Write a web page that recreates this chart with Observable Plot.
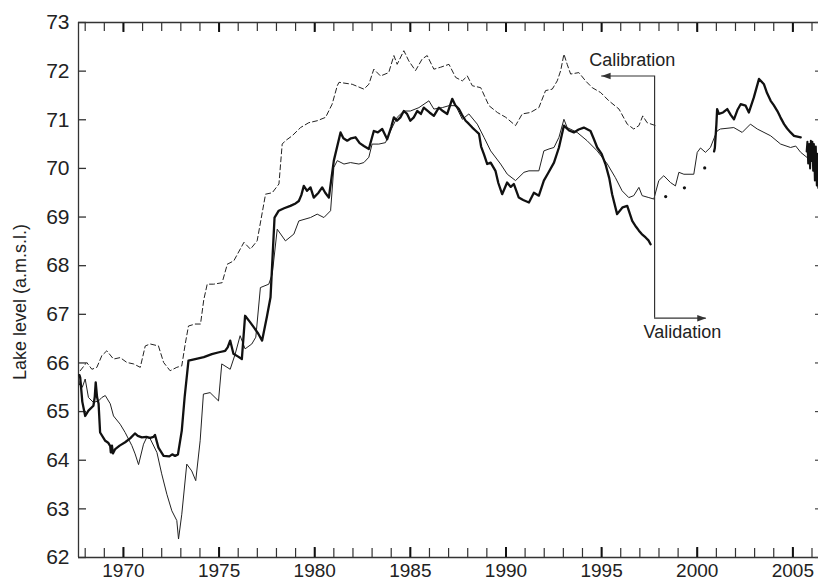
<!DOCTYPE html>
<html><head><meta charset="utf-8">
<script src="https://cdn.jsdelivr.net/npm/d3@7"></script>
<script src="https://cdn.jsdelivr.net/npm/@observablehq/plot@0.6"></script>
<style>
body{margin:0;background:#fff;}
svg{display:block;}
#chart svg, #chart svg text{font-family:'Liberation Sans', Arial, Helvetica, sans-serif;}
</style>
</head><body><div id="chart"></div>
<script>
// Observed lake level (thick line), calibration period
const observedCalibration = [
[1967.70,65.75],[1967.74,65.70],[1967.85,65.2],[1968.0,64.91],[1968.17,65.02],[1968.43,65.12],[1968.5,65.3],[1968.55,65.60],[1968.62,65.3],[1968.7,65.16],[1968.78,64.57],[1969.05,64.40],[1969.2,64.36],[1969.31,64.29],[1969.34,64.16],[1969.4,64.3],[1969.45,64.14],[1969.57,64.23],[1969.8,64.3],[1970.09,64.37],[1970.35,64.45],[1970.6,64.55],[1970.75,64.5],[1970.96,64.47],[1971.2,64.48],[1971.4,64.46],[1971.57,64.48],[1971.65,64.52],[1971.83,64.26],[1972.1,64.09],[1972.4,64.08],[1972.55,64.12],[1972.7,64.09],[1972.85,64.12],[1973.05,64.61],[1973.2,65.3],[1973.4,66.05],[1973.75,66.08],[1974.2,66.12],[1974.62,66.18],[1975.0,66.22],[1975.32,66.25],[1975.45,66.32],[1975.58,66.46],[1975.75,66.19],[1976.0,66.13],[1976.19,66.08],[1976.36,66.97],[1976.6,66.85],[1976.82,66.73],[1977.05,66.6],[1977.25,66.46],[1977.5,66.95],[1977.69,67.35],[1977.9,68.99],[1978.12,69.13],[1978.4,69.18],[1978.73,69.23],[1979.0,69.28],[1979.17,69.33],[1979.3,69.45],[1979.43,69.64],[1979.6,69.54],[1979.78,69.61],[1979.95,69.40],[1980.2,69.5],[1980.39,69.61],[1980.55,69.5],[1980.74,69.40],[1981.0,70.16],[1981.35,70.74],[1981.5,70.62],[1981.7,70.57],[1981.9,70.62],[1982.13,70.64],[1982.35,70.52],[1982.57,70.46],[1982.83,70.40],[1983.09,70.77],[1983.3,70.74],[1983.53,70.81],[1983.79,70.60],[1984.0,70.85],[1984.14,71.05],[1984.3,70.98],[1984.48,71.05],[1984.66,71.18],[1984.83,71.12],[1985.0,70.98],[1985.18,71.05],[1985.36,71.18],[1985.55,71.12],[1985.7,71.25],[1986.0,71.15],[1986.23,71.08],[1986.49,71.25],[1986.7,71.18],[1986.93,71.12],[1987.19,71.43],[1987.35,71.3],[1987.54,71.22],[1987.7,71.1],[1987.89,70.98],[1988.05,70.92],[1988.24,70.84],[1988.4,70.78],[1988.59,70.71],[1988.7,70.45],[1988.85,70.29],[1989.02,70.09],[1989.2,70.12],[1989.45,69.95],[1989.6,69.7],[1989.8,69.47],[1990.06,69.71],[1990.25,69.62],[1990.41,69.68],[1990.67,69.40],[1990.9,69.35],[1991.2,69.30],[1991.46,69.50],[1991.72,69.44],[1991.98,69.75],[1992.2,69.9],[1992.51,70.12],[1992.77,70.43],[1993.03,70.88],[1993.3,70.78],[1993.55,70.74],[1993.8,70.8],[1994.07,70.84],[1994.42,70.77],[1994.6,70.6],[1994.77,70.43],[1995.0,70.3],[1995.2,70.09],[1995.4,69.8],[1995.55,69.47],[1995.81,69.06],[1996.1,69.2],[1996.34,69.23],[1996.6,68.92],[1996.8,68.8],[1996.95,68.72],[1997.1,68.65],[1997.3,68.58],[1997.45,68.52],[1997.56,68.44]
];
// Observed lake level (thick line), validation period
const observedValidation = [
[2000.88,70.35],[2000.92,70.42],[2001.0,70.9],[2001.04,71.22],[2001.13,71.12],[2001.35,71.15],[2001.57,71.22],[2001.75,71.1],[2001.92,71.01],[2002.1,71.2],[2002.27,71.32],[2002.53,71.29],[2002.7,71.15],[2002.96,71.46],[2003.23,71.84],[2003.49,71.73],[2003.65,71.55],[2003.84,71.39],[2004.0,71.3],[2004.19,71.18],[2004.35,71.05],[2004.54,70.91],[2004.7,70.82],[2004.88,70.74],[2005.06,70.67],[2005.41,70.64]
];
const observedRecent = [
[2005.72,70.35],[2005.76,70.55],[2005.8,70.1],[2005.85,70.5],[2005.9,70.0],[2005.94,70.57],[2005.98,70.15],[2006.02,70.55],[2006.06,69.95],[2006.1,70.5],[2006.15,69.75],[2006.2,70.45],[2006.25,69.65],[2006.3,70.3],[2006.33,69.6]
];
// Sparse observations (dots)
const observedSparse = [[1998.35,69.42],[1999.33,69.60],[2000.39,70.01]];
// Simulated lake level (thin line)
const simulated = [
[1967.70,65.55],[1967.74,65.63],[1967.85,65.5],[1968.0,65.67],[1968.17,65.29],[1968.43,65.19],[1968.7,65.22],[1968.87,65.29],[1969.05,65.33],[1969.31,65.16],[1969.48,64.91],[1969.83,64.74],[1970.09,64.57],[1970.44,64.30],[1970.61,64.13],[1970.79,63.91],[1971.05,64.33],[1971.22,64.47],[1971.4,64.44],[1971.75,64.16],[1972.0,63.72],[1972.27,63.30],[1972.53,62.96],[1972.79,62.76],[1972.88,62.38],[1973.05,62.89],[1973.31,63.92],[1973.57,63.78],[1973.78,63.58],[1974.01,64.40],[1974.18,65.36],[1974.53,65.39],[1974.97,65.22],[1975.14,65.98],[1975.58,65.87],[1975.84,66.18],[1976.1,66.56],[1976.36,66.29],[1976.71,66.39],[1976.92,66.53],[1977.16,67.55],[1977.6,67.62],[1977.78,67.83],[1978.04,68.75],[1978.47,68.51],[1978.91,68.65],[1979.17,68.92],[1979.78,68.99],[1980.13,69.06],[1980.48,68.99],[1980.83,69.13],[1981.0,70.02],[1981.18,70.16],[1981.53,70.09],[1981.87,70.12],[1982.31,70.09],[1982.57,70.12],[1982.83,70.23],[1983.0,70.5],[1983.35,70.5],[1983.7,70.53],[1983.96,70.77],[1984.31,71.05],[1984.66,71.18],[1985.0,71.18],[1985.45,71.25],[1985.97,71.39],[1986.23,71.22],[1986.67,71.25],[1987.02,71.29],[1987.37,71.29],[1987.72,71.01],[1988.06,71.12],[1988.5,70.91],[1988.85,70.64],[1989.2,70.36],[1989.72,70.09],[1990.07,69.88],[1990.5,69.75],[1990.94,69.92],[1991.2,69.95],[1991.72,69.95],[1991.98,70.36],[1992.25,70.40],[1992.51,70.43],[1992.77,70.64],[1993.03,71.01],[1993.2,70.84],[1993.72,70.74],[1994.24,70.57],[1994.77,70.36],[1995.3,70.09],[1995.72,69.81],[1996.07,69.54],[1996.42,69.40],[1996.68,69.44],[1996.95,69.61],[1997.12,69.44],[1997.47,69.40],[1997.73,69.37],[1997.99,69.75],[1998.25,69.85],[1998.6,69.71],[1998.86,69.64],[1999.04,69.92],[1999.3,69.88],[1999.82,69.88],[2000.0,70.33],[2000.17,70.42],[2000.43,70.33],[2000.69,70.43],[2000.9,70.64],[2001.04,70.77],[2001.21,70.81],[2001.91,70.84],[2002.35,70.74],[2002.78,70.91],[2003.14,70.81],[2003.49,70.74],[2003.84,70.67],[2004.36,70.50],[2004.88,70.43],[2005.15,70.46],[2005.41,70.33],[2005.85,70.19],[2006.28,70.05]
];
// Dashed series
const dashedSeries = [
[1967.74,65.84],[1968.08,66.01],[1968.35,65.87],[1968.61,65.91],[1968.87,66.15],[1969.13,66.25],[1969.48,66.08],[1969.83,66.11],[1970.18,66.01],[1970.53,65.98],[1970.88,65.91],[1971.14,66.35],[1971.4,66.39],[1971.83,66.35],[1972.1,66.01],[1972.44,65.84],[1972.79,65.91],[1973.05,65.94],[1973.23,66.39],[1973.4,66.76],[1973.75,66.80],[1974.03,66.80],[1974.2,67.3],[1974.38,67.62],[1974.72,67.62],[1975.16,67.65],[1975.43,68.03],[1975.77,68.10],[1976.3,68.48],[1976.64,68.34],[1976.99,68.51],[1977.43,69.47],[1977.78,69.50],[1978.13,69.68],[1978.3,70.50],[1978.47,70.57],[1978.82,70.67],[1979.26,70.84],[1979.69,70.94],[1980.13,70.98],[1980.57,71.05],[1980.91,71.32],[1981.18,71.70],[1981.27,71.77],[1981.96,71.73],[1982.57,71.63],[1982.83,71.73],[1983.09,72.04],[1983.44,71.90],[1983.87,71.97],[1984.14,72.32],[1984.31,72.14],[1984.66,72.42],[1984.92,72.21],[1985.27,72.01],[1985.62,72.25],[1985.88,72.32],[1986.23,72.04],[1986.58,72.08],[1987.02,72.14],[1987.37,71.87],[1987.72,71.80],[1987.98,71.90],[1988.24,71.70],[1988.68,71.66],[1989.11,71.29],[1989.55,71.15],[1989.99,71.05],[1990.5,70.88],[1990.85,71.12],[1991.28,71.15],[1991.72,71.25],[1992.07,71.60],[1992.42,71.63],[1992.68,71.80],[1992.86,72.01],[1993.03,72.35],[1993.2,72.14],[1993.38,71.94],[1993.81,71.97],[1994.16,71.80],[1994.51,71.66],[1994.95,71.56],[1995.38,71.39],[1995.91,71.22],[1996.34,70.91],[1996.68,70.81],[1996.95,70.88],[1997.15,71.08],[1997.38,70.94],[1997.82,70.88]
];
// Axis ticks
const yearTicks = d3.range(1968, 2007);
const majorYearTicks = [1970, 1975, 1980, 1985, 1990, 1995, 2000, 2005];
const levelTicks = [62, 63, 64, 65, 66, 67, 68, 69, 70, 71, 72, 73];
const yLabel = "Lake level (a.m.s.l.)";
// Annotation (data coordinates)
const splitYear = 1997.77;
const calibrationLevel = 71.9, calibrationArrowEnd = 1995.0;
const validationLevel = 66.92, validationArrowEnd = 2000.47;
const annotationTexts = [
  {text: "Calibration", x: 1994.35, y: 72.22},
  {text: "Validation", x: 1997.19, y: 66.63}
];

const W = 818, H = 585, ML = 78, MR = 0, MT = 22, MB = 28;
const xDomain = [1967.65, 2006.34], yDomain = [62, 73];
const ink = "#222";
const headLeft = {draw(ctx) { ctx.moveTo(0, 0); ctx.lineTo(9, -3.2); ctx.lineTo(9, 3.2); ctx.closePath(); }};
const headRight = {draw(ctx) { ctx.moveTo(0, 0); ctx.lineTo(-9, -3.2); ctx.lineTo(-9, 3.2); ctx.closePath(); }};

const chart = Plot.plot({
  width: W,
  height: H,
  marginLeft: ML,
  marginRight: MR,
  marginTop: MT,
  marginBottom: MB,
  x: {domain: xDomain},
  y: {domain: yDomain},
  marks: [
    // frame lines
    Plot.ruleX([xDomain[0]], {stroke: "#333", strokeWidth: 1.3}),
    Plot.ruleY(yDomain, {stroke: "#333", strokeWidth: 1.3}),
    // tick labels
    Plot.axisY({anchor: "left", ticks: levelTicks, tickSize: 0, tickPadding: 9, fontSize: 21, label: null, fill: ink}),
    Plot.axisX({anchor: "bottom", ticks: majorYearTicks, tickSize: 0, tickPadding: 6, fontSize: 19, label: null, fill: ink, tickFormat: d => String(d)}),
    // inward ticks: standard axis ticks shifted back inside the frame
    Plot.axisX({anchor: "bottom", ticks: yearTicks, tickSize: 9, dy: -9, fill: "none", label: null, stroke: "#333", strokeWidth: 1.2}),
    Plot.axisX({anchor: "bottom", ticks: majorYearTicks, tickSize: 10, dy: -10, fill: "none", label: null, stroke: "#111", strokeWidth: 2}),
    Plot.axisX({anchor: "top", ticks: yearTicks, tickSize: 8, dy: 8, fill: "none", label: null, stroke: "#333", strokeWidth: 1.2}),
    Plot.axisX({anchor: "top", ticks: majorYearTicks, tickSize: 9, dy: 9, fill: "none", label: null, stroke: "#111", strokeWidth: 2}),
    Plot.axisY({anchor: "left", ticks: levelTicks, tickSize: 8, dx: 8, fill: "none", label: null, stroke: "#333", strokeWidth: 1.3}),
    Plot.axisY({anchor: "right", ticks: levelTicks, tickSize: 4, dx: -4, fill: "none", label: null, stroke: "#444", strokeWidth: 1.2}),
    Plot.text([yLabel], {text: d => d, frameAnchor: "left", textAnchor: "middle", rotate: -90, dx: -58, dy: 12, fontSize: 18, fill: ink}),
    // series
    Plot.line(dashedSeries, {x: d => d[0], y: d => d[1], stroke: "#222", strokeWidth: 1, strokeDasharray: "5,3"}),
    Plot.line(simulated, {x: d => d[0], y: d => d[1], stroke: "#222", strokeWidth: 1}),
    Plot.line(observedCalibration, {x: d => d[0], y: d => d[1], stroke: "#111", strokeWidth: 2.3, strokeLinejoin: "round"}),
    Plot.line(observedValidation, {x: d => d[0], y: d => d[1], stroke: "#111", strokeWidth: 2.3, strokeLinejoin: "round"}),
    Plot.line(observedRecent, {x: d => d[0], y: d => d[1], stroke: "#111", strokeWidth: 2, strokeLinejoin: "round"}),
    Plot.dot(observedSparse, {x: d => d[0], y: d => d[1], r: 1.6, fill: "#111", stroke: "none"}),
    // annotation
    Plot.ruleX([splitYear], {y1: validationLevel, y2: calibrationLevel, stroke: "#333", strokeWidth: 1.2}),
    Plot.ruleY([calibrationLevel], {x1: calibrationArrowEnd, x2: splitYear, stroke: "#333", strokeWidth: 1.2}),
    Plot.ruleY([validationLevel], {x1: splitYear, x2: validationArrowEnd, stroke: "#333", strokeWidth: 1.2}),
    Plot.dot([calibrationArrowEnd], {x: d => d, y: calibrationLevel, symbol: headLeft, r: 3, fill: "#333", stroke: "none"}),
    Plot.dot([validationArrowEnd], {x: d => d, y: validationLevel, symbol: headRight, r: 3, fill: "#333", stroke: "none"}),
    Plot.text(annotationTexts, {x: "x", y: "y", text: "text", textAnchor: "start", fontSize: 18, fill: ink})
  ]
});
document.getElementById("chart").appendChild(chart);
</script>
</body></html>
